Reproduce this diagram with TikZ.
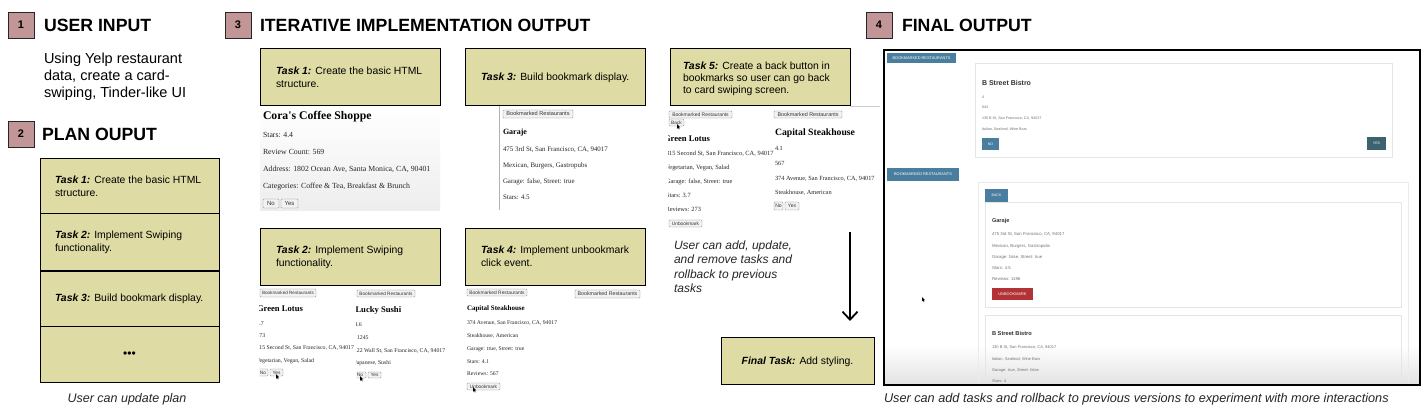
\documentclass[tikz,border=0pt]{standalone}
\usepackage{fontspec}
\setmainfont{Liberation Sans}
\newfontfamily\tms{Liberation Serif}
\usetikzlibrary{arrows.meta}
\definecolor{khaki}{RGB}{223,219,164}
\definecolor{badgec}{RGB}{194,150,150}
\definecolor{fblue}{RGB}{74,126,158}
\definecolor{fteal}{RGB}{60,98,112}
\definecolor{fred}{RGB}{178,50,54}
\newcounter{snc}
\newcommand\sx[5]{\stepcounter{snc}\node[#1={#2}, anchor=base west] (n\arabic{snc}) at (#3,{#4+0.36*#2}) {#5};}
\newcommand\bx[7]{\stepcounter{snc}\node[#1={#7}, minimum width={#4-#2}, minimum height={#5-#3}] (n\arabic{snc}) at ({(#2+#4)/2},{(#3+#5)/2}) {#6};}
\newcommand\tk[1]{{\bfseries\itshape #1}}
\tikzset{
  every node/.style={inner sep=0pt, outer sep=0pt},
  badge/.style={draw=black!85, line width=0.8pt, fill=badgec, minimum width=26, minimum height=26, font=\fontsize{11}{11}\selectfont\bfseries},
  head/.style={font=\fontsize{#1}{#1}\selectfont\bfseries},
  capt/.style={font=\fontsize{#1}{#1}\selectfont\itshape, text=black!85},
  tbox/.style={draw=black, line width=1pt, fill=khaki, anchor=north west},
  ttxt/.style={anchor=north west, align=left, font=\fontsize{10.4}{12.5}\selectfont},
  shtxt/.style={font=\tms\fontsize{#1}{#1}\selectfont, text=black!85},
  shbold/.style={font=\tms\bfseries\fontsize{#1}{#1}\selectfont, text=black},
  shbtn/.style={draw=black!45, fill=black!5, line width=0.4pt, rounded corners=0.8pt, font=\fontsize{#1}{#1}\selectfont, text=black!80},
  fotxt/.style={font=\fontsize{#1}{#1}\selectfont, text=black!55},
  fobold/.style={font=\bfseries\fontsize{#1}{#1}\selectfont, text=black!80},
  fobtn/.style={fill=fblue, font=\fontsize{#1}{#1}\selectfont, text=white},
  fobtnt/.style={fill=fteal, font=\fontsize{#1}{#1}\selectfont, text=white},
  fored/.style={fill=fred, font=\fontsize{#1}{#1}\selectfont, text=white},
  cardline/.style={draw=black!10, line width=0.8pt},
  cursor/.pic={\fill[black] (0,0) -- (0,8) -- (1.9,6.2) -- (3.2,9) -- (4.3,8.5) -- (3.0,5.8) -- (5.5,5.8) -- cycle;}
}
\begin{document}
\begin{tikzpicture}[x=1pt,y=-1pt]
\useasboundingbox[fill=white] (0,0) rectangle (1428,419);

% ---------- headings ----------
\node[badge] (b1) at (21,25) {1};
\sx{head}{17.7}{44}{25}{USER INPUT}
\node[anchor=north west, align=left, font=\fontsize{14.5}{17}\selectfont] (uin) at (44,52.6) {Using Yelp restaurant\\data, create a card-\\swiping, Tinder-like UI};
\node[badge] (b2) at (21,134) {2};
\sx{head}{17.7}{42}{134}{PLAN OUPUT}
\node[badge] (b3) at (238,25) {3};
\sx{head}{17.7}{260}{25}{ITERATIVE IMPLEMENTATION OUTPUT}
\node[badge] (b4) at (879,25) {4};
\sx{head}{17.7}{902}{25}{FINAL OUTPUT}

% ---------- plan box ----------
\node[tbox, minimum width=179, minimum height=55] (p1) at (40,159) {};
\node[tbox, minimum width=179, minimum height=57] (p2) at (40,214) {};
\node[tbox, minimum width=179, minimum height=56] (p3) at (40,271) {};
\node[tbox, minimum width=179, minimum height=56] (p4) at (40,327) {};
\draw[line width=1.6pt] (p3.north west) -- (p3.north east);
\node[ttxt] (p1t) at (55,176.2) {\tk{Task 1:} Create the basic HTML\\structure.};
\node[ttxt] (p2t) at (55,231.2) {\tk{Task 2:} Implement Swiping\\functionality.};
\node[ttxt] (p3t) at (55,294.2) {\tk{Task 3:} Build bookmark display.};
\node[font=\fontsize{12}{12}\selectfont] (p4t) at (p4.center) {•••};
\node[capt=12.5, anchor=base] (cap1) at (127,{398+4.5}) {User can update plan};

% ---------- task boxes ----------
\node[tbox, minimum width=180, minimum height=57] (t1) at (260,49) {};
\node[ttxt] (t1t) at (276,67.2) {\tk{Task 1:} Create the basic HTML\\structure.};
\node[tbox, minimum width=180, minimum height=57] (t3) at (465,49) {};
\node[ttxt] (t3t) at (481,73.2) {\tk{Task 3:} Build bookmark display.};
\node[tbox, minimum width=180, minimum height=57] (t2) at (260,229) {};
\node[ttxt] (t2t) at (276,246.2) {\tk{Task 2:} Implement Swiping\\functionality.};
\node[tbox, minimum width=180, minimum height=57] (t4) at (465,229) {};
\node[ttxt] (t4t) at (481,246.2) {\tk{Task 4:} Implement unbookmark\\click event.};
\node[tbox, minimum width=180, minimum height=57] (t5) at (670,49) {};
\node[ttxt, font=\fontsize{10.4}{12}\selectfont] (t5t) at (683,62.2) {\tk{Task 5:} Create a back button in\\bookmarks so user can go back\\to card swiping screen.};
\node[tbox, minimum width=153, minimum height=47] (tf) at (721,338) {};
\node[font=\fontsize{10.4}{12}\selectfont] (tft) at (tf.center) {\tk{Final Task:} Add styling.};

% ---------- task 1 screenshot ----------
\shade[top color=white, bottom color=black!7] (260,107) rectangle (440,211);
\sx{shbold}{11.7}{263}{115}{Cora's Coffee Shoppe}
\sx{shtxt}{7.8}{263}{135}{Stars: 4.4}
\sx{shtxt}{7.8}{263}{152}{Review Count: 569}
\sx{shtxt}{7.8}{263}{169}{Address: 1802 Ocean Ave, Santa Monica, CA, 90401}
\sx{shtxt}{7.8}{263}{186}{Categories: Coffee \& Tea, Breakfast \& Brunch}
\bx{shbtn}{263}{199}{279}{208}{No}{6}
\bx{shbtn}{281}{199}{298}{208}{Yes}{6}

% ---------- task 3 screenshot ----------
\draw[black!30, line width=0.6pt] (499,106) -- (499,210);
\bx{shbtn}{503}{110}{573}{118}{Bookmarked Restaurants}{5.6}
\sx{shbold}{8}{503}{132}{Garaje}
\sx{shtxt}{6.9}{503}{149}{475 3rd St, San Francisco, CA, 94017}
\sx{shtxt}{6.9}{503}{165}{Mexican, Burgers, Gastropubs}
\sx{shtxt}{6.9}{503}{181}{Garage: false, Street: true}
\sx{shtxt}{6.9}{503}{197}{Stars: 4.5}

% ---------- task 2 screenshots ----------
\begin{scope}
\clip (259.5,286) rectangle (355.5,400);
\bx{shbtn}{260}{289}{316}{297}{Bookmarked Restaurants}{4.6}
\sx{shbold}{8.6}{257}{308}{Green Lotus}
\sx{shtxt}{5.8}{256.5}{323}{4.7}
\sx{shtxt}{5.8}{256.5}{335}{273}
\sx{shtxt}{5.8}{256.5}{347}{315 Second St, San Francisco, CA, 94017}
\sx{shtxt}{5.8}{256}{360}{Vegetarian, Vegan, Salad}
\bx{shbtn}{258}{369}{268}{376}{No}{4.8}
\bx{shbtn}{270}{369}{283}{376}{Yes}{4.8}
\pic[scale=0.6] at (276,374) {cursor};
\end{scope}
\begin{scope}
\clip (356.5,286) rectangle (446,400);
\bx{shbtn}{357}{290}{415}{297}{Bookmarked Restaurants}{4.7}
\sx{shbold}{8.6}{355.5}{309}{Lucky Sushi}
\sx{shtxt}{5.8}{354.5}{324}{4.6}
\sx{shtxt}{5.8}{357}{337}{1245}
\sx{shtxt}{5.8}{354}{350}{122 Wall St, San Francisco, CA, 94017}
\sx{shtxt}{5.8}{354.5}{362}{Japanese, Sushi}
\bx{shbtn}{354}{372}{366}{378}{No}{4.8}
\bx{shbtn}{368}{372}{381}{378}{Yes}{4.8}
\pic[scale=0.6] at (360,376) {cursor};
\end{scope}

% ---------- task 4 screenshot ----------
\bx{shbtn}{467}{289}{527}{296}{Bookmarked Restaurants}{4.9}
\bx{shbtn}{575}{290}{640}{298}{Bookmarked Restaurants}{5.3}
\sx{shbold}{7}{467}{308}{Capital Steakhouse}
\sx{shtxt}{5.7}{467}{322}{374 Avenue, San Francisco, CA, 94017}
\sx{shtxt}{5.7}{467}{335}{Steakhouse, American}
\sx{shtxt}{5.7}{467}{348}{Garage: true, Street: true}
\sx{shtxt}{5.7}{467}{361}{Stars: 4.1}
\sx{shtxt}{5.7}{467}{373}{Reviews: 567}
\bx{shbtn}{467}{383}{500}{390}{Unbookmark}{4.8}
\pic[scale=0.6] at (473,387) {cursor};

% ---------- task 5 screenshots ----------
\begin{scope}
\clip (668.5,106) rectangle (773,232);
\bx{shbtn}{669}{111}{732}{118}{Bookmarked Restaurants}{5}
\bx{shbtn}{669}{119}{684}{126}{Back}{4.8}
\pic[scale=0.6] at (677,124) {cursor};
\sx{shbold}{8.6}{664}{138}{Green Lotus}
\sx{shtxt}{6.4}{666}{153}{315 Second St, San Francisco, CA, 94017}
\sx{shtxt}{6.4}{665.5}{167}{Vegetarian, Vegan, Salad}
\sx{shtxt}{6.4}{666}{181}{Garage: false, Street: true}
\sx{shtxt}{6.4}{666}{195}{Stars: 3.7}
\sx{shtxt}{6.4}{665.5}{209}{Reviews: 273}
\bx{shbtn}{669}{220}{702}{227}{Unbookmark}{4.8}
\end{scope}
\draw[black!20, line width=0.6pt] (850,106.5) -- (880,106.5);
\bx{shbtn}{774}{111}{842}{118}{Bookmarked Restaurants}{5.4}
\sx{shbold}{9.7}{775}{132}{Capital Steakhouse}
\sx{shtxt}{6.3}{775}{148}{4.1}
\sx{shtxt}{6.3}{775}{163}{567}
\sx{shtxt}{6.3}{775}{178}{374 Avenue, San Francisco, CA, 94017}
\sx{shtxt}{6.3}{775}{192}{Steakhouse, American}
\bx{shbtn}{774}{202}{783}{210}{No}{5}
\bx{shbtn}{785}{202}{799}{210}{Yes}{5}

% ---------- middle note and arrow ----------
\node[anchor=north west, align=left, font=\fontsize{12}{14.5}\selectfont\itshape, text=black!85] (note) at (674,240.6) {User can add, update,\\and remove tasks and\\rollback to previous\\tasks};
\coordinate (a1) at (850,232);
\coordinate (a2) at (850,321);
\draw[line width=1.8pt, -{Straight Barb[length=8pt,width=15pt]}] (a1) -- (a2);

% ---------- final output ----------
\shade[top color=white, bottom color=black!11] (885,345) rectangle (1419,384.3);
\bx{fobtn}{887}{53}{956}{63}{BOOKMARKED RESTAURANTS}{3.9}
\draw[cardline] (975,63) rectangle (1392,157);
\sx{fobold}{7}{982}{83}{B Street Bistro}
\sx{fotxt}{3.7}{982}{97}{4}
\sx{fotxt}{3.7}{982}{107}{643}
\sx{fotxt}{3.7}{982}{118}{130 B St, San Francisco, CA, 94017}
\sx{fotxt}{3.7}{982}{129}{Italian, Seafood, Wine Bars}
\bx{fobtn}{982}{138}{999}{150}{NO}{3.6}
\bx{fobtnt}{1367}{137}{1386}{150}{YES}{3.6}
\bx{fobtn}{887}{168}{959}{181}{BOOKMARKED RESTAURANTS}{3.9}
\draw[black!8, line width=0.8pt] (978,384.3) |- (1408,182) -- (1408,384.3);
\bx{fobtn}{985}{189}{1008}{202}{BACK}{3.6}
\draw[cardline] (985,202) rectangle (1401,307);
\sx{fobold}{5.6}{992}{220}{Garaje}
\sx{fotxt}{4.3}{992}{234}{475 3rd St, San Francisco, CA, 94017}
\sx{fotxt}{4.3}{992}{246}{Mexican, Burgers, Gastropubs}
\sx{fotxt}{4.3}{992}{257}{Garage: false, Street: true}
\sx{fotxt}{4.3}{992}{268}{Stars: 4.5}
\sx{fotxt}{4.3}{992}{279}{Reviews: 1196}
\bx{fored}{992}{288}{1033}{300}{UNBOOKMARK}{3.9}
\pic[scale=0.55] at (922,297) {cursor};
\draw[cardline] (985,384.3) |- (1401,315) -- (1401,384.3);
\sx{fobold}{5.7}{992}{333}{B Street Bistro}
\sx{fotxt}{4.0}{992}{347}{130 B St, San Francisco, CA, 94017}
\sx{fotxt}{4.0}{992}{359}{Italian, Seafood, Wine Bars}
\sx{fotxt}{4.0}{992}{370}{Garage: true, Street: false}
\sx{fotxt}{4.0}{992}{381}{Stars: 4}
\node[draw=black, line width=1.3pt, minimum width=536, minimum height=335, anchor=north west] (frame) at (884,50) {};
\sx{capt}{12.7}{884}{398}{User can add tasks and rollback to previous versions to experiment with more interactions}
\end{tikzpicture}
\end{document}
